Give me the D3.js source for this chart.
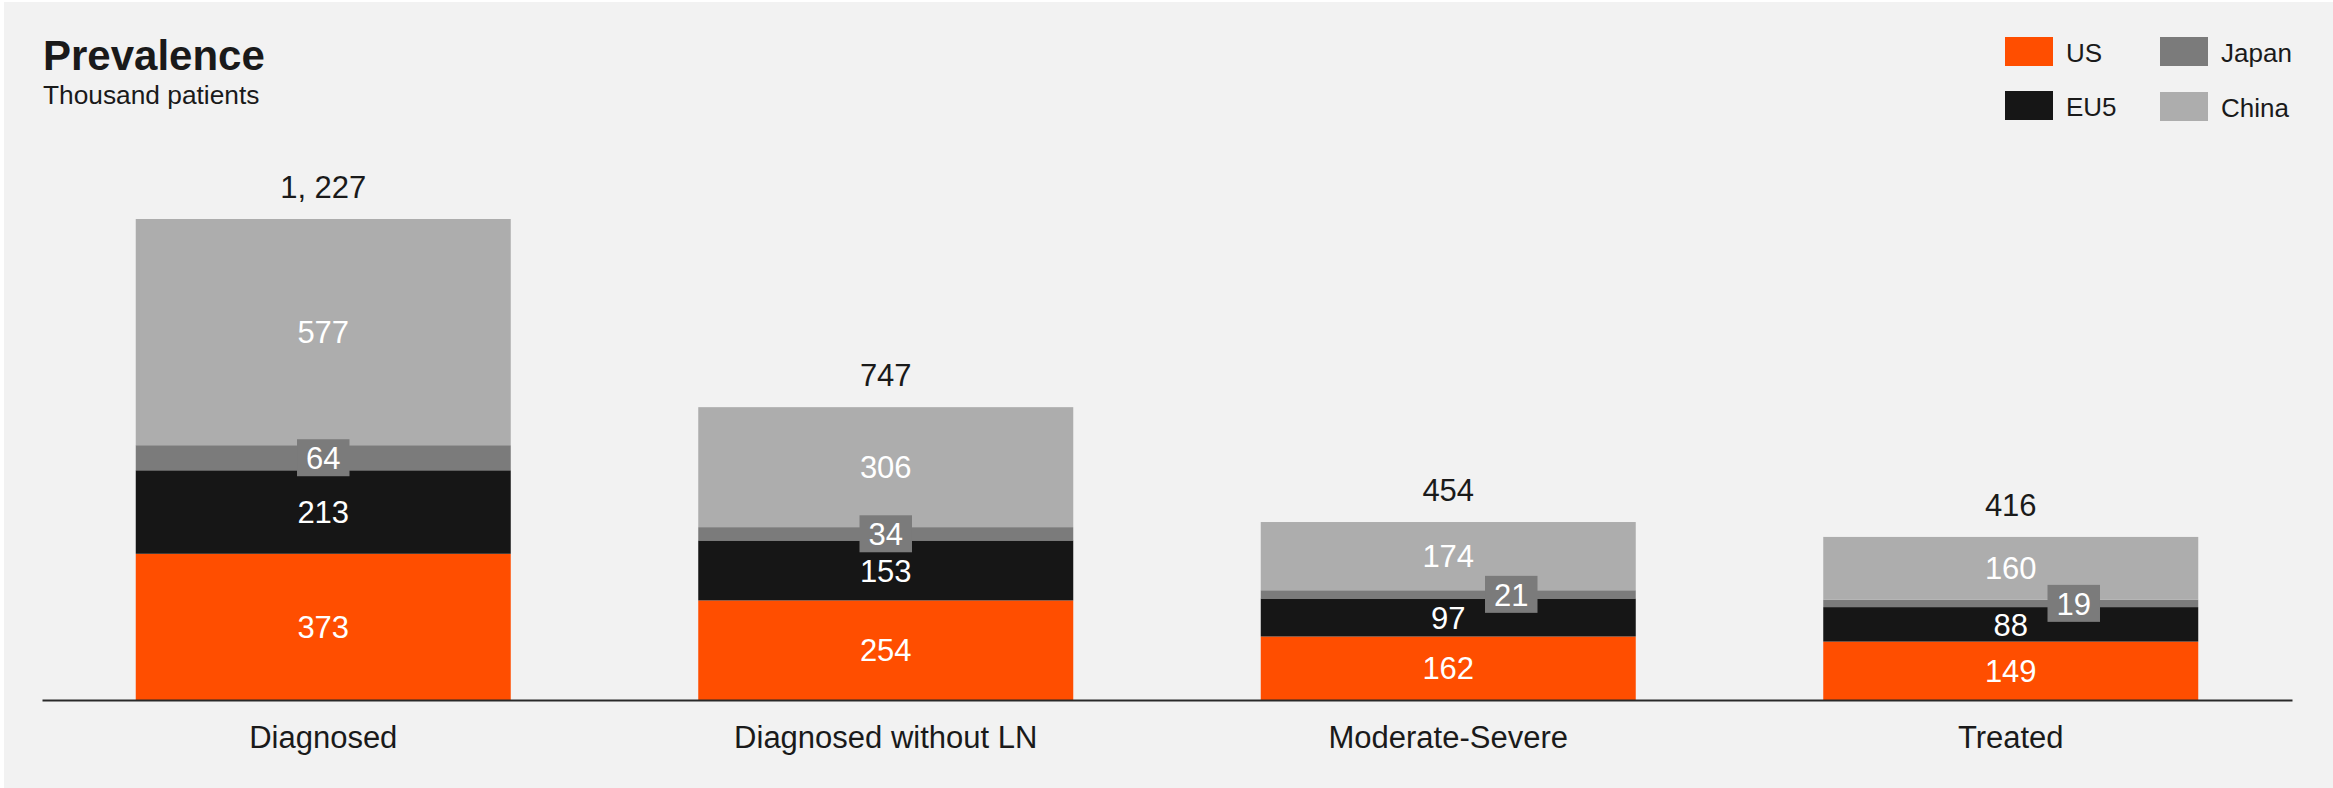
<!DOCTYPE html>
<html>
<head>
<meta charset="utf-8">
<script src="https://cdn.jsdelivr.net/npm/d3@7"></script>
<style>
  html, body { margin: 0; padding: 0; background: #ffffff; }
  svg { display: block; font-family: "Liberation Sans", Arial, sans-serif; }
</style>
</head>
<body>
<svg id="chart" width="2333" height="788"></svg>
<script>
// ---- data ----
const categories = ["Diagnosed", "Diagnosed without LN", "Moderate-Severe", "Treated"];
const seriesNames = ["US", "EU5", "Japan", "China"];
const usValues = [373, 254, 162, 149];
const eu5Values = [213, 153, 97, 88];
const japanValues = [64, 34, 21, 19];
const chinaValues = [577, 306, 174, 160];
const title = "Prevalence";
const subtitle = "Thousand patients";

// ---- styles ----
const colors = { US: "#ff4e00", EU5: "#161616", Japan: "#7b7b7b", China: "#adadad" };
const textDark = "#1a1a1a";
const W = 2333, H = 788;

const rows = categories.map((c, i) => ({
  category: c, US: usValues[i], EU5: eu5Values[i], Japan: japanValues[i], China: chinaValues[i]
}));
const totals = rows.map(r => seriesNames.reduce((s, k) => s + r[k], 0));

const svg = d3.select("#chart");
svg.append("rect").attr("x", 4).attr("y", 2).attr("width", W - 4).attr("height", H - 2).attr("fill", "#f2f2f2");

const x = d3.scaleBand().domain(categories).range([42, 2292]).paddingInner(1/3).paddingOuter(1/6);
const y = d3.scaleLinear().domain([0, d3.max(totals)]).range([700, 219]);

const stack = d3.stack().keys(seriesNames)(rows);

// bars
const layers = svg.append("g").selectAll("g").data(stack).join("g").attr("fill", d => colors[d.key]);
layers.selectAll("rect").data(d => d).join("rect")
  .attr("x", d => x(d.data.category))
  .attr("width", x.bandwidth())
  .attr("y", d => y(d[1]))
  .attr("height", d => y(d[0]) - y(d[1]));

// axis baseline
const axis = svg.append("g").attr("transform", "translate(0,700)")
  .call(d3.axisBottom(x).tickSize(0).tickPadding(26));
axis.select(".domain").attr("stroke", "#2a2a2a").attr("stroke-width", 2);
axis.selectAll(".tick text").attr("font-size", 31).attr("fill", textDark)
  .attr("font-family", "'Liberation Sans', Arial, sans-serif");

const fs = 31;
const fmtTotal = v => d3.format(",")(v).replace(/,/g, ", ");

// totals
svg.append("g").selectAll("text").data(rows).join("text")
  .attr("x", d => x(d.category) + x.bandwidth() / 2)
  .attr("y", (d, i) => y(totals[i]) - 21)
  .attr("text-anchor", "middle").attr("font-size", fs).attr("fill", textDark)
  .text((d, i) => fmtTotal(totals[i]));

// inner labels for US, EU5, China
["US", "EU5", "China"].forEach(key => {
  const layer = stack.find(s => s.key === key);
  svg.append("g").selectAll("text").data(layer).join("text")
    .attr("x", d => x(d.data.category) + x.bandwidth() / 2)
    .attr("y", d => (y(d[0]) + y(d[1])) / 2)
    .attr("dy", "0.36em")
    .attr("text-anchor", "middle").attr("font-size", fs).attr("fill", "#ffffff")
    .text(d => d.data[key]);
});

// Japan labels in boxes, shifted right when they would collide with the EU5 label
const jp = stack.find(s => s.key === "Japan");
const eu = stack.find(s => s.key === "EU5");
const boxH = 37, padX = 9;
const jpG = svg.append("g");
jp.forEach((d, i) => {
  const cx0 = x(d.data.category) + x.bandwidth() / 2;
  const cy = (y(d[0]) + y(d[1])) / 2;
  const euCenter = (y(eu[i][0]) + y(eu[i][1])) / 2;
  const overlap = (cy + boxH / 2) > (euCenter - 12);
  const cx = overlap ? cx0 + x.bandwidth() * 0.168 : cx0;
  const g = jpG.append("g");
  const t = g.append("text")
    .attr("x", cx).attr("y", cy).attr("dy", "0.36em")
    .attr("text-anchor", "middle").attr("font-size", fs).attr("fill", "#ffffff")
    .text(d.data.Japan);
  const bw = t.node().getComputedTextLength() + padX * 2;
  g.insert("rect", "text")
    .attr("x", cx - bw / 2).attr("y", cy - boxH / 2)
    .attr("width", bw).attr("height", boxH)
    .attr("fill", colors.Japan);
});

// title
svg.append("text").attr("x", 43).attr("y", 70).attr("font-size", 42).attr("font-weight", "bold")
  .attr("fill", textDark).text(title);
svg.append("text").attr("x", 43).attr("y", 104).attr("font-size", 26.3)
  .attr("fill", textDark).text(subtitle);

// legend
const legendPos = { US: [2005, 37], EU5: [2005, 91], Japan: [2160, 37], China: [2160, 92] };
const lg = svg.append("g").selectAll("g").data(seriesNames).join("g")
  .attr("transform", d => `translate(${legendPos[d][0]},${legendPos[d][1]})`);
lg.append("rect").attr("width", 48).attr("height", 29).attr("fill", d => colors[d]);
lg.append("text").attr("x", 61).attr("y", 24.5).attr("font-size", 26).attr("fill", textDark).text(d => d);
</script>
</body>
</html>
